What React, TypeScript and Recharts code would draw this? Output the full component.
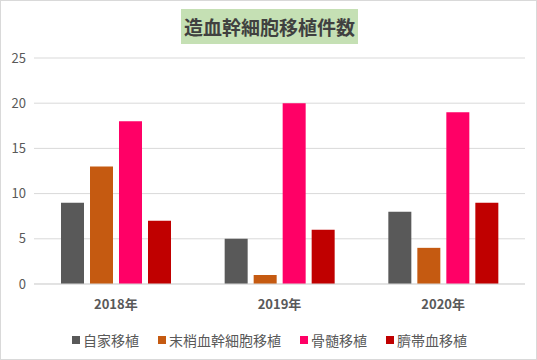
import { Bar, BarChart, CartesianGrid, Legend, XAxis, YAxis } from "recharts";

const years = ["2018年", "2019年", "2020年"];
const autologous = [9, 5, 8];
const peripheral = [13, 1, 4];
const marrow = [18, 20, 19];
const cordBlood = [7, 6, 9];
const yTicks = [0, 5, 10, 15, 20, 25];

const series = [
  { key: "auto", name: "自家移植", color: "#595959", values: autologous },
  { key: "pbsc", name: "末梢血幹細胞移植", color: "#C55A11", values: peripheral },
  { key: "bm", name: "骨髄移植", color: "#FF0066", values: marrow },
  { key: "cb", name: "臍帯血移植", color: "#C00000", values: cordBlood },
];

const data = years.map((year, i) => {
  const row: Record<string, string | number> = { year };
  series.forEach((s) => (row[s.key] = s.values[i]));
  return row;
});

const font = "'Noto Sans CJK JP', 'Noto Sans', sans-serif";

function LegendContent() {
  return (
    <div style={{ display: "flex", justifyContent: "center", gap: 19, fontFamily: font, fontSize: 14, color: "#595959", marginLeft: 14 }}>
      {series.map((s) => (
        <div key={s.key} style={{ display: "flex", alignItems: "center", gap: 3 }}>
          <span style={{ width: 8, height: 8, background: s.color, display: "inline-block" }} />
          <span>{s.name}</span>
        </div>
      ))}
    </div>
  );
}

export default function App() {
  return (
    <div style={{ position: "fixed", left: 0, top: 0, width: 537, height: 360, background: "#fff", border: "1px solid #D9D9D9", boxSizing: "border-box" }}>
      <div
        style={{
          position: "absolute",
          left: 180,
          top: 8,
          width: 177,
          height: 35,
          background: "#C5E0B4",
          color: "#404040",
          fontFamily: font,
          fontWeight: 700,
          fontSize: 19,
          lineHeight: "35px",
          textAlign: "center",
        }}
      >
        造血幹細胞移植件数
      </div>
      <BarChart
        width={535}
        height={358}
        data={data}
        margin={{ top: 57, right: 11, left: -1, bottom: 25 }}
        barSize={23}
        barGap={6}
        style={{ position: "absolute", left: 0, top: 0 }}
      >
        <CartesianGrid vertical={false} stroke="#D9D9D9" />
        <XAxis
          dataKey="year"
          tickLine={false}
          axisLine={{ stroke: "#D9D9D9" }}
          tickMargin={10}
          height={30}
          tick={{ fill: "#595959", fontSize: 13, fontWeight: 700, fontFamily: font }}
        />
        <YAxis
          width={34}
          domain={[0, 25]}
          ticks={yTicks}
          tickLine={false}
          axisLine={false}
          tick={{ fill: "#595959", fontSize: 13, fontFamily: font }}
        />
        <Legend verticalAlign="bottom" wrapperStyle={{ bottom: 9 }} content={<LegendContent />} />
        {series.map((s) => (
          <Bar key={s.key} dataKey={s.key} name={s.name} fill={s.color} isAnimationActive={false} />
        ))}
      </BarChart>
    </div>
  );
}
